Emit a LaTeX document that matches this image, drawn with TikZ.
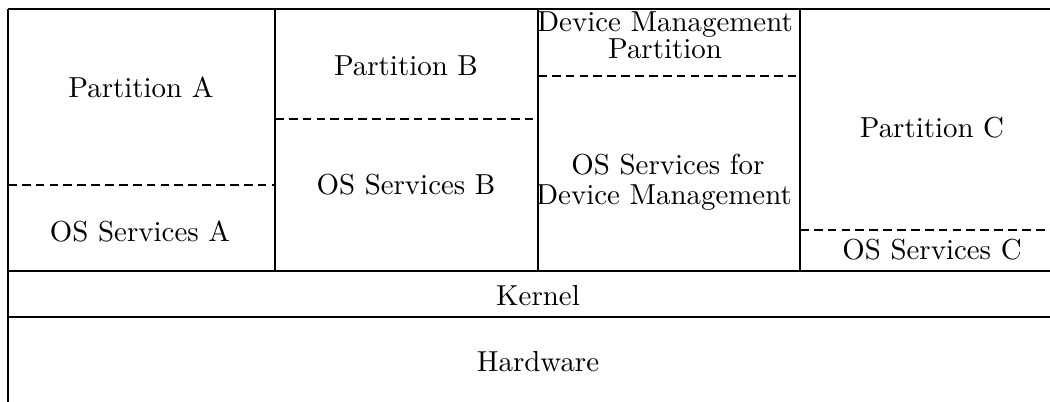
\documentclass[tikz,border=0pt]{standalone}
\begin{document}
\begin{tikzpicture}[x=0.346pt,y=-0.346pt,
  wall/.style={line width=0.75pt},
  split/.style={line width=0.75pt,dash pattern=on 3pt off 1.8pt},
  lbl/.style={anchor=base,inner sep=0pt,font=\fontsize{10}{12}\selectfont}]
\useasboundingbox (0,0) rectangle (1050,402);
% grid coordinates
\coordinate (tl) at (8,9);
\coordinate (tr) at (1050,9);
\coordinate (bl) at (8,402);
\coordinate (ab) at (275,9);   \coordinate (ab2) at (275,271);
\coordinate (bd) at (538,9);   \coordinate (bd2) at (538,271);
\coordinate (dc) at (800,9);   \coordinate (dc2) at (800,271);
\coordinate (k1) at (8,271);   \coordinate (k2) at (1050,271);
\coordinate (h1) at (8,317);   \coordinate (h2) at (1050,317);
\coordinate (da1) at (8,185);  \coordinate (da2) at (275,185);
\coordinate (db1) at (275,119);\coordinate (db2) at (538,119);
\coordinate (dd1) at (538,76); \coordinate (dd2) at (800,76);
\coordinate (dcc1) at (800,230);\coordinate (dcc2) at (1050,230);
% solid lines
\draw[wall] (tl) -- (tr);
\draw[wall] (tl) -- (bl);
\draw[wall] (ab) -- (ab2);
\draw[wall] (bd) -- (bd2);
\draw[wall] (dc) -- (dc2);
\draw[wall] (k1) -- (k2);
\draw[wall] (h1) -- (h2);
% dashed separators
\draw[split] (da1) -- (da2);
\draw[split] (db1) -- (db2);
\draw[split] (dd1) -- (dd2);
\draw[split] (dcc1) -- (dcc2);
% labels
\node[lbl] (pa) at (141,98) {Partition A};
\node[lbl] (osa) at (140,241) {OS Services A};
\node[lbl] (pb) at (406,75) {Partition B};
\node[lbl] (osb) at (406,195) {OS Services B};
\node[lbl] (dm1) at (665,31) {Device Management};
\node[lbl] (dm2) at (665,58) {Partition};
\node[lbl] (osd1) at (668,175) {OS Services for};
\node[lbl] (osd2) at (664,204) {Device Management};
\node[lbl] (pc) at (932,138) {Partition C};
\node[lbl] (osc) at (932,260) {OS Services C};
\node[lbl] (kern) at (538,305) {Kernel};
\node[lbl] (hw) at (538,372) {Hardware};
\end{tikzpicture}
\end{document}
